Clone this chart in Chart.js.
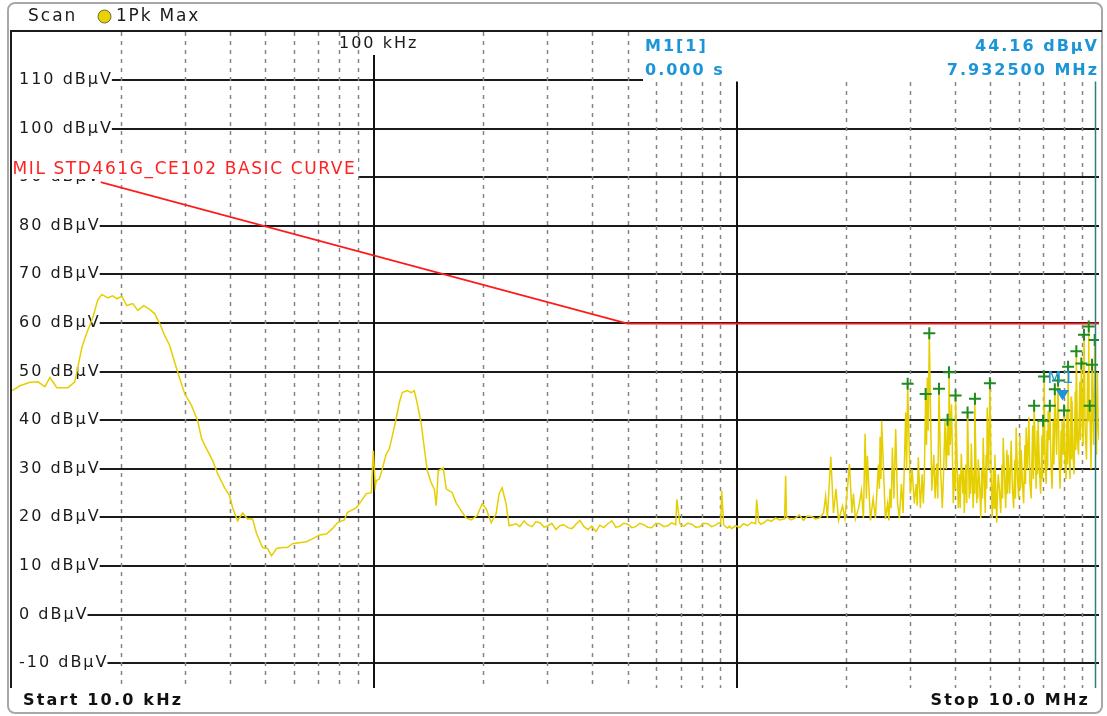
<!DOCTYPE html>
<html>
<head>
<meta charset="utf-8">
<script src="https://cdn.jsdelivr.net/npm/chart.js@4.4.1/dist/chart.umd.min.js"></script>
<style>
  html, body { margin: 0; padding: 0; background: #fff; }
  #wrap { width: 1107px; height: 716px; position: relative; }
</style>
</head>
<body>
<div id="wrap"><canvas id="spectrum"></canvas></div>
<script>
// frequencies in kHz, levels in dBuV
const lowFreq = [10.0, 10.52, 11.21, 11.79, 12.33, 12.73, 13.30, 14.27, 14.91, 15.20, 15.59, 16.09, 16.72, 17.25, 17.70,
  18.39, 18.98, 19.46, 20.09, 20.74, 21.54, 22.24, 23.10, 24.00, 24.77, 25.57, 26.40, 27.24, 28.12, 29.03, 29.96,
  31.31, 32.53, 33.37, 34.67, 35.79, 36.94, 38.62, 39.86, 40.63, 41.94, 43.29, 44.68, 46.12, 47.31, 49.15, 50.73,
  52.03, 53.70, 55.79, 57.59, 59.45, 62.14, 64.96, 67.48, 70.55, 73.75, 76.61, 79.08, 82.67, 84.26, 89.20, 92.08,
  95.05, 98.12, 98.74, 99.37, 100.6, 101.3, 103.2, 105.2, 107.9, 110.0, 112.1, 115.0, 117.2, 119.4, 123.3, 126.5,
  128.9, 131.4, 134.7, 137.3, 140.0, 143.6, 146.4, 148.2, 150.1, 155.0, 157.9, 164.0, 168.2, 173.6, 179.2, 185.0,
  192.2, 198.4, 203.5, 210.1, 216.9, 221.0, 225.3, 231.0, 235.5];
const lowLevel = [46.2, 47.2, 47.9, 48.0, 47.0, 48.9, 46.8, 46.8, 48.0, 51.1, 55.1, 58.1, 61.3, 64.9, 66.0,
  65.3, 65.7, 65.1, 65.6, 63.7, 64.1, 62.7, 63.7, 62.9, 62.0, 60.0, 57.5, 55.5, 52.0, 48.7, 45.6,
  43.1, 40.0, 36.3, 33.8, 31.8, 29.1, 26.2, 24.6, 22.1, 19.4, 21.0, 19.8, 19.8, 16.8, 13.9, 13.7,
  12.2, 13.7, 13.9, 13.9, 14.7, 14.9, 15.1, 15.7, 16.5, 16.7, 17.8, 19.0, 19.6, 21.1, 22.1, 23.5,
  25.0, 25.2, 29.7, 33.8, 26.5, 27.7, 28.0, 30.1, 33.2, 34.2, 36.9, 40.6, 43.7, 45.8, 46.2, 45.8,
  46.2, 43.5, 39.4, 34.5, 29.7, 27.2, 25.9, 22.5, 29.7, 30.3, 26.0, 25.2, 23.1, 21.5, 20.0, 19.6,
  20.5, 22.9, 21.9, 19.0, 20.9, 25.0, 26.2, 22.9, 18.4];

const floorFreq = [246.1, 252, 258.9, 265, 272.4, 279, 286.6, 294, 301.5, 309, 317.2, 325, 333.7, 342, 351.1,
  360, 369.4, 379, 388.6, 398, 408.8, 419, 430.1, 441, 452.5, 464, 476.0, 488, 500.8, 514, 526.9, 540, 554.3,
  568, 583.2, 598, 613.5, 629, 645.4, 662, 679.0, 683.5, 696.6, 705, 714.4, 733, 751.6, 771, 790.7, 811, 831.8,
  853, 875.1, 890, 903.5, 909.2, 920.7, 932, 944.5, 956, 968.6, 993, 1019, 1045, 1072, 1100, 1128, 1135.5,
  1150, 1168, 1187, 1217, 1248, 1280, 1313, 1356, 1365, 1373, 1413, 1454, 1490, 1529, 1568, 1609, 1650, 1693];
const floorLevel = [18.8, 18.2, 19.4, 18.6, 18.2, 19.2, 19.0, 18.1, 18.4, 18.9, 17.6, 18.4, 18.6, 18.0, 17.8,
  18.7, 19.5, 18.2, 17.6, 18.3, 17.2, 18.5, 18.0, 18.8, 19.4, 18.1, 18.3, 18.9, 18.7, 18.0, 18.2, 18.9, 18.6,
  18.1, 18.0, 18.9, 18.8, 18.2, 18.4, 19.0, 18.6, 23.8, 18.9, 18.4, 18.3, 18.9, 18.7, 18.1, 18.2, 18.9, 18.8,
  18.2, 18.5, 19.0, 18.8, 25.6, 18.6, 18.2, 17.9, 18.3, 17.8, 18.4, 18.0, 18.8, 18.4, 19.1, 18.8, 23.8,
  19.2, 18.7, 19.0, 19.6, 19.3, 20.0, 19.6, 19.8, 28.7, 20.2, 19.6, 20.0, 20.6, 19.5, 20.4, 20.3, 19.8, 20.0];

const combFreq = [1737, 1760, 1780, 1819, 1850, 1880, 1910, 1960, 1990, 2048, 2080, 2100, 2127, 2170, 2210, 2238,
  2262, 2281, 2295, 2340, 2380, 2415, 2461, 2477, 2488, 2501, 2513, 2573, 2610, 2630, 2651, 2669, 2690, 2716,
  2747, 2780, 2812, 2850, 2880, 2927, 2945, 2964, 3015, 3050, 3092, 3130, 3150, 3172, 3213, 3250, 3275, 3295,
  3323, 3342, 3359, 3380, 3401, 3456, 3500, 3530, 3563, 3590, 3617, 3655, 3694, 3720, 3758, 3789, 3820, 3837,
  3854, 3886, 3918, 3961, 3990, 4005, 4019, 4089, 4120, 4140, 4168, 4210, 4230, 4248, 4290, 4315, 4338, 4385,
  4410, 4425, 4441, 4497, 4520, 4533, 4546, 4598, 4620, 4630, 4642, 4690, 4716, 4750, 4770, 4791, 4853, 4880,
  4900, 4915, 4961, 4999, 5040, 5073, 5110, 5135, 5160, 5220, 5245, 5270, 5310, 5354, 5400, 5420, 5440, 5490,
  5527, 5570, 5590, 5615, 5669, 5723, 5770, 5814, 5860, 5880, 5907, 5960, 6002, 6050, 6075, 6098, 6150, 6195,
  6245, 6270, 6295, 6347, 6403, 6450, 6497, 6560, 6590, 6622, 6707, 6750, 6770, 6792, 6850, 6901, 6960, 6985,
  7011, 7034, 7056, 7100, 7146, 7190, 7215, 7237, 7274, 7316, 7370, 7423, 7480, 7510, 7551, 7638, 7711, 7760,
  7810, 7860, 7880, 7909, 7960, 8010, 8060, 8112, 8160, 8185, 8216, 8270, 8320, 8375, 8400, 8427, 8480, 8534,
  8600, 8630, 8659, 8720, 8781, 8850, 8890, 8938, 9035, 9093, 9160, 9238, 9300, 9330, 9368, 9398, 9428, 9506,
  9566, 9658, 9731, 9790, 9843, 9900, 9937, 10000];
const combLevel = [21.0, 24.5, 20.0, 32.6, 21.0, 26.0, 19.5, 22.5, 19.8, 31.1, 21.0, 25.0, 19.8, 22.0, 25.6, 20.0,
  37.3, 24.0, 32.8, 19.5, 24.0, 20.0, 31.0, 26.0, 36.7, 28.0, 40.0, 19.8, 23.0, 19.5, 26.0, 22.0, 34.5, 24.0,
  38.3, 23.0, 20.0, 27.0, 21.0, 41.7, 30.0, 47.6, 25.0, 30.0, 23.0, 27.0, 22.5, 32.5, 22.0, 29.0, 23.0, 28.0,
  45.5, 35.0, 48.9, 38.0, 58.0, 25.6, 33.0, 24.0, 31.2, 24.0, 46.6, 30.0, 22.0, 28.0, 40.0, 30.0, 40.2, 33.0,
  50.0, 35.0, 43.4, 23.0, 30.0, 26.0, 45.2, 22.0, 29.0, 22.0, 33.2, 25.0, 30.0, 21.0, 31.0, 23.0, 41.7, 24.0,
  30.0, 25.0, 35.3, 22.0, 30.0, 25.0, 44.5, 23.0, 28.0, 24.0, 32.0, 26.0, 20.0, 30.0, 24.0, 36.5, 21.0, 33.0,
  26.0, 42.7, 30.0, 47.7, 28.0, 20.0, 30.0, 22.0, 33.0, 19.0, 25.0, 29.0, 26.0, 21.0, 31.0, 24.0, 36.5, 28.0,
  22.0, 34.0, 25.0, 33.0, 25.0, 35.9, 26.0, 22.0, 32.0, 24.0, 38.6, 28.0, 24.0, 37.0, 26.0, 34.0, 27.0, 23.0,
  35.0, 27.0, 38.6, 30.0, 40.7, 27.0, 24.0, 39.0, 28.0, 43.1, 26.0, 38.0, 29.0, 40.0, 30.0, 25.0, 37.0, 28.0,
  40.0, 33.0, 49.1, 31.0, 27.0, 38.0, 30.0, 42.0, 36.0, 43.1, 31.0, 26.0, 40.0, 31.0, 46.5, 33.0, 48.3, 32.0,
  26.0, 38.0, 30.0, 40.0, 33.0, 42.1, 31.0, 28.0, 42.0, 31.0, 51.1, 33.0, 28.0, 45.0, 32.0, 44.0, 33.0, 29.0,
  46.0, 34.0, 54.3, 36.0, 33.0, 48.0, 36.0, 51.8, 35.0, 57.7, 38.0, 32.0, 50.0, 40.0, 59.4, 40.0, 43.1, 30.0,
  51.5, 35.0, 56.6, 40.0, 33.0, 50.0, 40.0, 36.0];

// MIL-STD-461G CE102 basic curve
const limitFreq = [10, 500, 10000];
const limitLevel = [94, 60, 60];

// peak list markers
const peakFreq = [2964, 3323, 3401, 3617, 3820, 3854, 4019, 4338, 4546, 4999, 6622, 7011, 7056, 7316, 7551,
  7711, 8010, 8216, 8659, 8938, 9093, 9368, 9428, 9566, 9731];
const peakLevel = [47.6, 45.5, 58.0, 46.6, 40.2, 50.0, 45.2, 41.7, 44.5, 47.7, 43.1, 40.0, 49.1, 43.1, 46.5,
  48.3, 42.1, 51.1, 54.3, 51.8, 57.7, 59.4, 43.1, 51.5, 56.6];

const markerFreq = 7932.5;
const markerLevel = 44.16;

const yTicks = [-10, 0, 10, 20, 30, 40, 50, 60, 70, 80, 90, 100, 110];
const xMinorTicks = [20, 30, 40, 50, 60, 70, 80, 90, 200, 300, 400, 500, 600, 700, 800, 900,
  2000, 3000, 4000, 5000, 6000, 7000, 8000, 9000];
const xMajorTicks = [100, 1000];

const traceFreq = lowFreq.concat(floorFreq, combFreq);
const traceLevel = lowLevel.concat(floorLevel, combLevel);

const BLUE = '#1b95d8';
const FONT = "16px 'DejaVu Sans'";
const BOLD = "bold 16px 'DejaVu Sans'";
const BOX_LEFT = 643, BOX_BOTTOM = 81.5;

function label(ctx, s, x, y, font, color, align, bg, spacing) {
  ctx.save();
  ctx.font = font;
  ctx.letterSpacing = (spacing === undefined ? 2 : spacing) + 'px';
  ctx.textBaseline = 'middle';
  ctx.textAlign = 'left';
  const w = ctx.measureText(s).width;
  const sx = align === 'right' ? x - w : x;
  if (bg) {
    ctx.fillStyle = '#fff';
    ctx.fillRect(bg[0], bg[1], bg[2] === null ? w + sx - bg[0] : bg[2], bg[3]);
  }
  ctx.fillStyle = color;
  ctx.fillText(s, sx, y);
  ctx.restore();
  return w;
}

function pts(fs, ls) {
  return fs.map((f, i) => ({x: f, y: ls[i]}));
}

const analyzerPlugin = {
  id: 'analyzer',
  beforeDraw(chart) {
    const {ctx, width, height} = chart;
    ctx.save();
    ctx.fillStyle = '#fff';
    ctx.fillRect(0, 0, width, height);
    // outer frame
    ctx.strokeStyle = '#a8a8a8';
    ctx.lineWidth = 2;
    ctx.beginPath();
    ctx.roundRect(8, 3, 1094, 710, 7);
    ctx.stroke();
    ctx.restore();
    // header
    label(ctx, 'Scan', 28, 16.5, "17px 'DejaVu Sans'", '#1a1a1a', 'left', null, 2);
    ctx.save();
    ctx.beginPath();
    ctx.arc(104.5, 16.5, 6.5, 0, Math.PI * 2);
    ctx.fillStyle = '#e8d200';
    ctx.fill();
    ctx.strokeStyle = '#6b6b40';
    ctx.lineWidth = 1;
    ctx.stroke();
    ctx.restore();
    label(ctx, '1Pk Max', 116, 16.5, "17px 'DejaVu Sans'", '#1a1a1a', 'left', null, 1.8);
    // footer
    label(ctx, 'Start 10.0 kHz', 23, 701, BOLD, '#111', 'left', null, 2.2);
    label(ctx, 'Stop 10.0 MHz', 1090, 701, BOLD, '#111', 'right', null, 2.2);
  },
  beforeDatasetsDraw(chart) {
    const {ctx, chartArea: a, scales: {x, y}} = chart;
    ctx.save();
    // horizontal grid with level labels
    yTicks.forEach(v => {
      const py = Math.floor(y.getPixelForValue(v));
      const w = label(ctx, v + ' dBµV', 19, py, FONT, '#1a1a1a');
      ctx.strokeStyle = '#1a1a1a';
      ctx.lineWidth = 2;
      ctx.beginPath();
      ctx.moveTo(19 + w - 1, py);
      ctx.lineTo(a.right, py);
      ctx.stroke();
    });
    // marker readout box
    ctx.fillStyle = '#fff';
    ctx.fillRect(BOX_LEFT, a.top + 1, a.right - BOX_LEFT, BOX_BOTTOM - a.top - 1);
    // vertical grid
    ctx.strokeStyle = '#858585';
    ctx.lineWidth = 1.5;
    ctx.setLineDash([4, 5]);
    xMinorTicks.forEach(f => {
      const px = Math.round(x.getPixelForValue(f)) + 0.5;
      ctx.beginPath();
      ctx.moveTo(px, px > BOX_LEFT ? BOX_BOTTOM + 0.5 : a.top);
      ctx.lineTo(px, a.bottom);
      ctx.stroke();
    });
    ctx.setLineDash([]);
    ctx.strokeStyle = '#111';
    ctx.lineWidth = 2;
    xMajorTicks.forEach(f => {
      const px = Math.round(x.getPixelForValue(f));
      ctx.beginPath();
      ctx.moveTo(px, px > BOX_LEFT ? BOX_BOTTOM : a.top + 23);
      ctx.lineTo(px, a.bottom);
      ctx.stroke();
    });
    ctx.restore();
    label(ctx, '100 kHz', 339, 44, FONT, '#1a1a1a');
  },
  afterDatasetsDraw(chart) {
    const {ctx, chartArea: a, scales: {x, y}} = chart;
    // 90 dBuV label sits over the limit line
    const p90 = Math.floor(y.getPixelForValue(90));
    label(ctx, '90 dBµV', 19, p90, FONT, '#1a1a1a', 'left', [a.left, p90 - 8, null, 16]);
    // limit line name
    label(ctx, 'MIL STD461G_CE102 BASIC CURVE', 12.5, 170, "17px 'DejaVu Sans'", '#ff2222', 'left',
      [a.left - 1, 155, 347, 24], 1.6);
    // marker M1
    const mx = x.getPixelForValue(markerFreq), my = y.getPixelForValue(markerLevel);
    ctx.save();
    ctx.fillStyle = BLUE;
    ctx.beginPath();
    ctx.moveTo(mx, my);
    ctx.lineTo(mx - 6.5, my - 10.5);
    ctx.lineTo(mx + 6.5, my - 10.5);
    ctx.closePath();
    ctx.fill();
    ctx.restore();
    label(ctx, 'M1', mx - 15, my - 22, FONT, BLUE);
    // marker readout
    label(ctx, 'M1[1]', 645, 46.5, BOLD, BLUE);
    label(ctx, '0.000 s', 645, 71, BOLD, BLUE);
    label(ctx, markerLevel.toFixed(2) + ' dBµV', 1099, 46.5, BOLD, BLUE, 'right');
    label(ctx, (markerFreq / 1000).toFixed(6) + ' MHz', 1099, 71, BOLD, BLUE, 'right');
  },
  afterDraw(chart) {
    const {ctx, chartArea: a} = chart;
    ctx.save();
    ctx.strokeStyle = '#1a1a1a';
    ctx.lineWidth = 2;
    ctx.beginPath();
    ctx.moveTo(10, a.top - 1);
    ctx.lineTo(1102, a.top - 1);
    ctx.moveTo(11, a.top - 1);
    ctx.lineTo(11, a.bottom);
    ctx.stroke();
    ctx.strokeStyle = '#2f7f80';
    ctx.lineWidth = 1.5;
    ctx.beginPath();
    ctx.moveTo(a.right - 3.5, BOX_BOTTOM);
    ctx.lineTo(a.right - 3.5, a.bottom);
    ctx.stroke();
    ctx.restore();
  }
};

new Chart(document.getElementById('spectrum'), {
  type: 'line',
  data: {
    datasets: [
      {
        label: '1Pk Max',
        data: pts(traceFreq, traceLevel),
        borderColor: '#e6cf00',
        borderWidth: 1.5,
        pointRadius: 0,
        tension: 0,
        order: 3
      },
      {
        label: 'MIL STD461G_CE102 BASIC CURVE',
        data: pts(limitFreq, limitLevel),
        borderColor: '#ff1a1a',
        borderWidth: 1.8,
        pointRadius: 0,
        tension: 0,
        order: 2
      },
      {
        type: 'scatter',
        label: 'Peaks',
        data: pts(peakFreq, peakLevel),
        pointStyle: 'cross',
        pointRadius: 6,
        borderColor: '#1f8a1f',
        borderWidth: 2,
        order: 1
      }
    ]
  },
  options: {
    responsive: true,
    maintainAspectRatio: false,
    animation: false,
    layout: { padding: { left: 12, right: 6, top: 32, bottom: 28 } },
    plugins: { legend: { display: false }, tooltip: { enabled: false } },
    scales: {
      x: { type: 'logarithmic', min: 10, max: 10000, display: false },
      y: { type: 'linear', min: -15, max: 120, display: false }
    }
  },
  plugins: [analyzerPlugin]
});
</script>
</body>
</html>
